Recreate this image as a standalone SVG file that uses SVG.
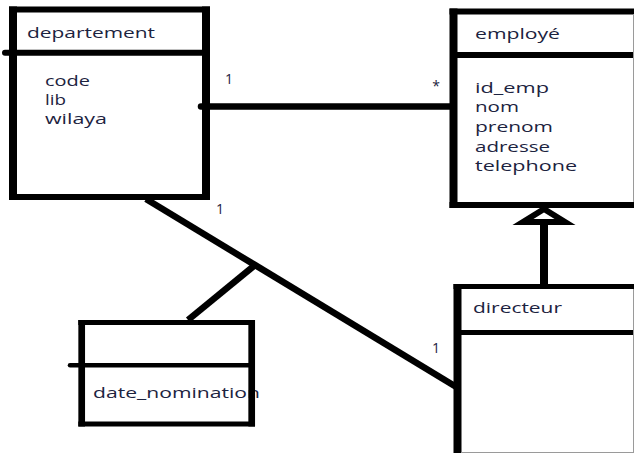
<svg xmlns="http://www.w3.org/2000/svg" width="634" height="453" viewBox="0 0 634 453">
<style>
  .v { stroke:#000; stroke-width:8; fill:none; stroke-linecap:butt; }
  .h { stroke:#000; stroke-width:6; fill:none; stroke-linecap:butt; }
  .sep { stroke:#000; stroke-width:6; fill:none; stroke-linecap:round; }
  .edge { stroke:#9a9a9a; stroke-width:1; fill:none; }
  .c { stroke:#000; stroke-width:6.5; fill:none; }
  text { font-family:"Open Sans","Noto Sans","DejaVu Sans",sans-serif; font-size:14px; fill:#1c2340; }
  .lbl { font-size:14px; }
</style>
<rect width="634" height="453" fill="#fff"/>

<g id="connectors">
  <line class="c" x1="201" y1="106.5" x2="453" y2="106.5" stroke-linecap="round"/>
  <line class="c" x1="146" y1="199" x2="458" y2="388"/>
  <line class="c" x1="255" y1="265" x2="188" y2="320"/>
  <line x1="544" y1="218" x2="544" y2="286" stroke="#000" stroke-width="8"/>
  <path d="M544,209 L523,222 L565,222 Z" fill="#fff" stroke="#000" stroke-width="6" stroke-linejoin="miter"/>
  <text class="lbl" x="229" y="84" text-anchor="middle">1</text>
  <text class="lbl" x="436" y="91" text-anchor="middle">*</text>
  <text class="lbl" x="220" y="214" text-anchor="middle">1</text>
  <text class="lbl" x="436" y="353" text-anchor="middle">1</text>
</g>

<g id="departement">
  <path class="v" d="M13,6.5 V200 M206,6.5 V200"/>
  <path class="h" d="M9,9.5 H210 M9,197 H210"/>
  <line class="sep" x1="5" y1="52.7" x2="206" y2="52.7"/>
  <text x="27" y="38" textLength="128" lengthAdjust="spacingAndGlyphs">departement</text>
  <text x="45" y="86" textLength="45" lengthAdjust="spacingAndGlyphs">code</text>
  <text x="45" y="105" textLength="21" lengthAdjust="spacingAndGlyphs">lib</text>
  <text x="45" y="124" textLength="62" lengthAdjust="spacingAndGlyphs">wilaya</text>
</g>

<g id="employe">
  <path class="v" d="M453.5,8.5 V208"/>
  <path class="h" d="M449.5,11.5 H640 M449.5,205 H640"/>
  <line class="h" x1="453.5" y1="55" x2="640" y2="55"/>
  <line class="edge" x1="633.5" y1="14" x2="633.5" y2="202"/>
  <text x="475" y="39" textLength="85" lengthAdjust="spacingAndGlyphs">employé</text>
  <text x="475" y="93" textLength="74" lengthAdjust="spacingAndGlyphs">id_emp</text>
  <text x="475" y="112" textLength="44" lengthAdjust="spacingAndGlyphs">nom</text>
  <text x="475" y="132" textLength="78" lengthAdjust="spacingAndGlyphs">prenom</text>
  <text x="475" y="152" textLength="75" lengthAdjust="spacingAndGlyphs">adresse</text>
  <text x="475" y="171" textLength="102" lengthAdjust="spacingAndGlyphs">telephone</text>
</g>

<g id="directeur">
  <path class="v" d="M457.5,284 V460"/>
  <path d="M453.5,286.5 H640 M457.5,332.5 H640" stroke="#000" stroke-width="5" fill="none"/>
  <line class="edge" x1="633.5" y1="289" x2="633.5" y2="453"/>
  <line class="edge" x1="461" y1="452.5" x2="634" y2="452.5"/>
  <text x="473" y="313" textLength="89" lengthAdjust="spacingAndGlyphs">directeur</text>
</g>

<g id="date_nomination">
  <text x="93" y="398" textLength="167" lengthAdjust="spacingAndGlyphs">date_nomination</text>
  <path d="M81.7,320 V426.5 M251.7,320 V426.5" stroke="#000" stroke-width="6.7" fill="none"/>
  <path d="M78.3,322.5 H255 M78.3,424 H255" stroke="#000" stroke-width="5" fill="none"/>
  <line x1="70" y1="365.3" x2="251.7" y2="365.3" stroke="#000" stroke-width="4.5" stroke-linecap="round"/>
</g>
</svg>
